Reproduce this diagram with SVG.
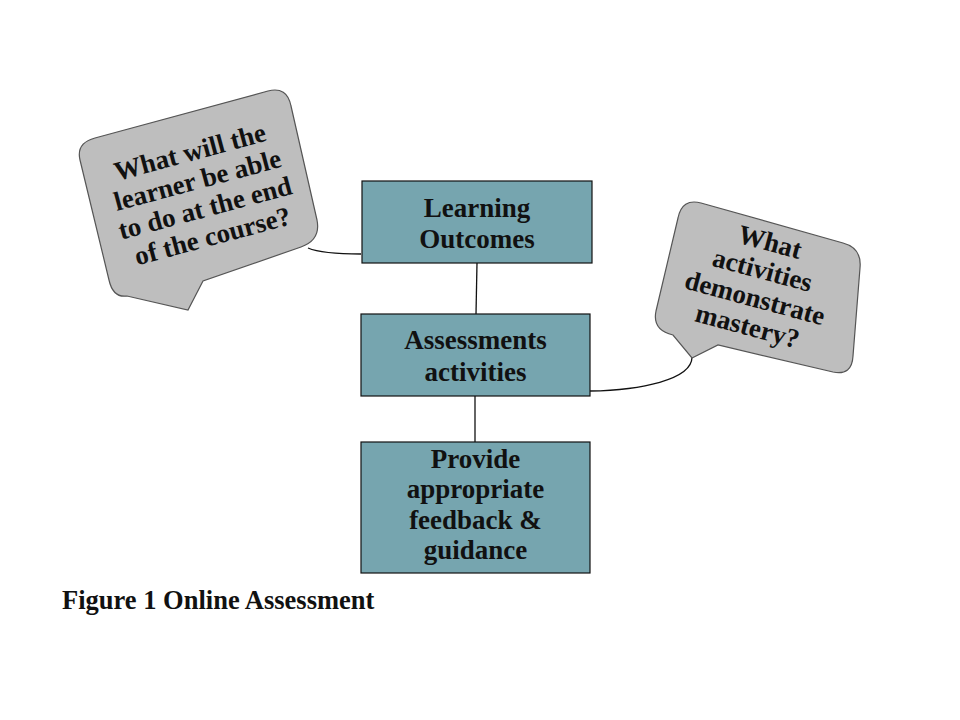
<svg xmlns="http://www.w3.org/2000/svg" width="960" height="720" viewBox="0 0 960 720">
<style>
.box{fill:#76A5AF;stroke:#111;stroke-width:1.2}
.bubble{fill:#BEBEBE;stroke:#555;stroke-width:1.2}
.t{font-family:"Liberation Serif","Times New Roman",serif;font-weight:bold;fill:#111;text-anchor:middle}
.bt{font-size:27px}
.qt{font-size:27px}
.conn{fill:none;stroke:#111;stroke-width:1.3}
</style>
<rect width="960" height="720" fill="#fff"/>
<g id="connectors">
<path class="conn" d="M477,263 L476,314"/>
<path class="conn" d="M475,396 L475,442"/>
<path class="conn" d="M308,248 Q322,254 361,254"/>
<path class="conn" d="M590,391 C640,390 692,380 692,357"/>
</g>
<g id="bubble-left">
<path class="bubble" d="M95,138 L268,91 Q287,86 291,106 L317,220 Q321,240 301,247 L203,281 L188,310 L127,296 Q113,298 109,280 L80,160 Q76,143 95,138 Z"/>
<g transform="translate(190,152) rotate(-15)">
<text class="t qt" x="0" y="9">What will the</text>
<text class="t qt" x="0" y="38">learner be able</text>
<text class="t qt" x="0" y="67">to do at the end</text>
<text class="t qt" x="0" y="96">of the course?</text>
</g>
</g>
<g id="bubble-right">
<path class="bubble" d="M701,203 L843,243 Q862,248 860,268 L853,356 Q852,376 833,372 L718,345 L692,358 L673,335 Q652,330 656,311 L678,218 Q682,198 701,203 Z"/>
<g transform="translate(770,242) rotate(15)">
<text class="t qt" x="0" y="9">What</text>
<text class="t qt" x="0" y="38">activities</text>
<text class="t qt" x="0" y="67">demonstrate</text>
<text class="t qt" x="0" y="96">mastery?</text>
</g>
</g>
<g id="learning-outcomes">
<rect class="box" x="362" y="181" width="230" height="82"/>
<text class="t bt" x="477" y="217">Learning</text>
<text class="t bt" x="477" y="248">Outcomes</text>
</g>
<g id="assessments">
<rect class="box" x="361" y="314" width="229" height="82"/>
<text class="t bt" x="475.5" y="349">Assessments</text>
<text class="t bt" x="475.5" y="381">activities</text>
</g>
<g id="feedback">
<rect class="box" x="361" y="442" width="229" height="131"/>
<text class="t bt" x="475.5" y="468">Provide</text>
<text class="t bt" x="475.5" y="498">appropriate</text>
<text class="t bt" x="475.5" y="529">feedback &amp;</text>
<text class="t bt" x="475.5" y="559">guidance</text>
</g>
<text class="t" x="62" y="609" style="font-size:26.5px;text-anchor:start">Figure 1 Online Assessment</text>
</svg>
